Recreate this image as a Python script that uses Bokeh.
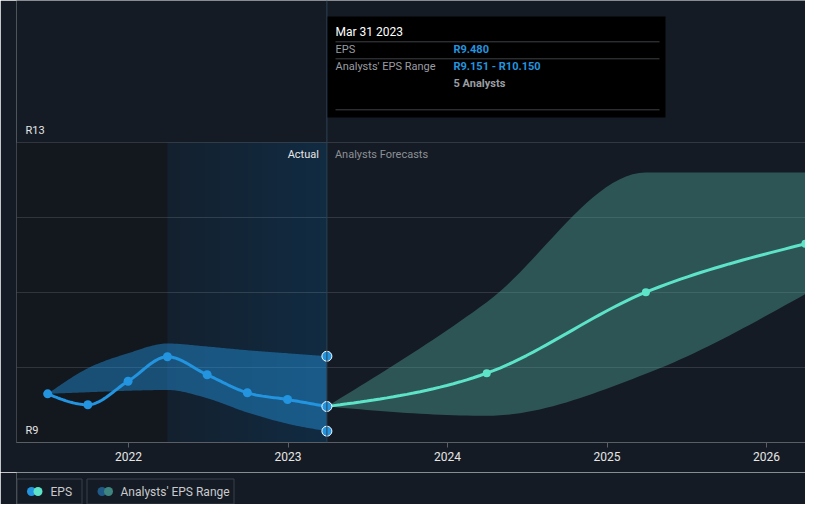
import numpy as np
import pandas as pd
from bokeh.plotting import figure
from bokeh.models import Range1d, FixedTicker, Span
from bokeh.layouts import column
from bokeh.core.properties import value
from bokeh.embed import file_html
from bokeh.resources import INLINE

# ---------------- data ----------------
eps_dates = ["2021-06-30", "2021-09-30", "2021-12-31", "2022-03-31",
             "2022-06-30", "2022-09-30", "2022-12-31", "2023-03-31"]
eps_values = [9.649, 9.503, 9.817, 10.143, 9.903, 9.663, 9.573, 9.480]
eps_range_low = [9.649, 9.67, 9.69, 9.70, 9.59, 9.40, 9.25, 9.151]
eps_range_high = [9.649, 9.99, 10.19, 10.32, 10.28, 10.23, 10.19, 10.150]

fc_dates = ["2023-03-31", "2024-03-31", "2025-03-31", "2026-03-31"]
fc_values = [9.480, 9.924, 11.004, 11.649]
fc_low = [9.480, 9.356, 9.916, 10.98]
fc_high = [9.480, 10.87, 12.60, 12.60]

x_ticks = [2022, 2023, 2024, 2025, 2026]
y_grid = [9, 10, 11, 12, 13]
y_label_values = [13, 9]
y_label_text = ["R13", "R9"]
past_year_start = "2022-03-31"
last_actual = "2023-03-31"

tooltip_title = "Mar 31 2023"
tooltip_rows = ["EPS", "Analysts' EPS Range"]
tooltip_vals = ["R9.480", "R9.151 - R10.150"]
tooltip_note = "5 Analysts"

legend_labels = ["EPS", "Analysts' EPS Range"]

# ---------------- style ----------------
BG = "#151b24"
DARK = "#13171e"
BLUE = "#2394df"
TEAL = "#5de3c8"
FONT = "Roboto"

PXY = 159.5   # px per year
PXV = 75.0    # px per R1


def xref(px):
    return 2022 + (px - 128) / PXY


def yref(py):
    return 9 + (442 - py) / PXV


X0, X1 = xref(16), xref(805)
Y0, Y1 = 9.0, yref(0)


def dec_year(s):
    t = pd.Timestamp(s)
    days = 366 if t.is_leap_year else 365
    return t.year + (t.dayofyear - 1) / days


def monotone(xs, ys, n=24):
    xs = np.asarray(xs, float)
    ys = np.asarray(ys, float)
    m = len(xs)
    h = np.diff(xs)
    s = np.diff(ys) / h
    t = np.zeros(m)
    for i in range(1, m - 1):
        s0, s1, h0, h1 = s[i - 1], s[i], h[i - 1], h[i]
        p = (s0 * h1 + s1 * h0) / (h0 + h1)
        sg = (1 if s0 >= 0 else -1) + (1 if s1 >= 0 else -1)
        t[i] = sg * min(abs(s0), abs(s1), 0.5 * abs(p))
    if m > 2:
        t[0] = (3 * s[0] - t[1]) / 2
        t[-1] = (3 * s[-1] - t[-2]) / 2
    else:
        t[0] = t[-1] = s[0]
    ox, oy = [], []
    for i in range(m - 1):
        u = np.linspace(0, 1, n, endpoint=(i == m - 2))
        hh = h[i]
        h00 = 2 * u**3 - 3 * u**2 + 1
        h10 = u**3 - 2 * u**2 + u
        h01 = -2 * u**3 + 3 * u**2
        h11 = u**3 - u**2
        ox.extend(xs[i] + u * hh)
        oy.extend(h00 * ys[i] + h10 * hh * t[i] + h01 * ys[i + 1] + h11 * hh * t[i + 1])
    return np.array(ox), np.array(oy)


ex = [dec_year(d) for d in eps_dates]
fx = [dec_year(d) for d in fc_dates]
xp = dec_year(past_year_start)
xl = dec_year(last_actual)

p = figure(width=805, height=472, title=None, output_backend="svg", toolbar_location=None,
           x_range=Range1d(X0, X1), y_range=Range1d(Y0, Y1), y_axis_location=None,
           min_border_left=16, min_border_right=0, min_border_top=0, min_border_bottom=30)
p.background_fill_color = BG
p.border_fill_color = BG
p.outline_line_color = None
p.xgrid.visible = False
p.ygrid.ticker = FixedTicker(ticks=y_grid)
p.ygrid.grid_line_color = "#ffffff"
p.ygrid.grid_line_alpha = 0.13

ax = p.xaxis[0]
ax.ticker = FixedTicker(ticks=x_ticks)
ax.axis_line_color = "#5a5f66"
ax.major_tick_line_color = "#5a5f66"
ax.major_tick_out = 5
ax.major_tick_in = 0
ax.minor_tick_line_color = None
ax.major_label_text_color = "#e6e6e6"
ax.major_label_text_font = FONT
ax.major_label_text_font_size = "12px"
ax.major_label_standoff = 4

# background regions
p.quad(left=[X0], right=[xp], bottom=[9], top=[13], fill_color=DARK, line_color=None, level="image")
N = 160
c0 = np.array([19, 32, 46])
c1 = np.array([17, 43, 66])
img = np.zeros((1, N), dtype=np.uint32)
view = img.view(dtype=np.uint8).reshape((1, N, 4))
for k in range(N):
    c = np.round(c0 + (c1 - c0) * k / (N - 1)).astype(int)
    view[0, k, 0], view[0, k, 1], view[0, k, 2], view[0, k, 3] = c[0], c[1], c[2], 255
p.image_rgba(image=[img], x=xp, y=9, dw=xl - xp, dh=4, level="image")

# bands
bx, blo = monotone(ex, eps_range_low)
_, bhi = monotone(ex, eps_range_high)
p.varea(x=bx, y1=blo, y2=bhi, fill_color=BLUE, fill_alpha=0.45)
fbx, fblo = monotone(fx, fc_low)
_, fbhi = monotone(fx, fc_high)
p.varea(x=fbx, y1=fblo, y2=fbhi, fill_color="#4fa89a", fill_alpha=0.42)

p.add_layout(Span(location=xl, dimension="height", line_color="#2b4256", line_width=1))

# lines
lx, ly = monotone(ex, eps_values)
p.line(lx, ly, line_color=BLUE, line_width=3)
flx, fly = monotone(fx, fc_values)
p.line(flx, fly, line_color=TEAL, line_width=3)

p.scatter(ex[:-1], eps_values[:-1], size=9, fill_color=BLUE, line_color=None)
p.scatter(fx[1:], fc_values[1:], size=8, fill_color=TEAL, line_color=None)
p.scatter([xl, xl, xl], [eps_range_high[-1], eps_values[-1], eps_range_low[-1]], size=10,
          fill_color=BLUE, line_color="white", line_width=1)

# y labels
p.text(x=[X0 + 9 / PXY] * 2, y=[v + 12 / PXV for v in y_label_values], text=y_label_text,
       text_color="#e6e6e6", text_font=value(FONT), text_font_size="11px",
       text_baseline="middle", text_align="left")

p.text(x=[xl - 8 / PXY], y=[13 - 12 / PXV], text=["Actual"], text_color="#e6e6e6",
       text_font=value(FONT), text_font_size="11px", text_baseline="middle", text_align="right")
p.text(x=[xl + 8 / PXY], y=[13 - 12 / PXV], text=["Analysts Forecasts"], text_color="#8c9096",
       text_font=value(FONT), text_font_size="11px", text_baseline="middle", text_align="left")

# tooltip
p.quad(left=[xref(327)], right=[xref(665)], bottom=[yref(117)], top=[yref(16)],
       fill_color="black", line_color=None, level="overlay")
p.segment(x0=[xref(335)] * 3, x1=[xref(659)] * 3, y0=[yref(41.3), yref(58.3), yref(109.3)],
          y1=[yref(41.3), yref(58.3), yref(109.3)], line_color="#3e4147", line_width=1, level="overlay")
p.text(x=[xref(335)], y=[yref(31)], text=[tooltip_title], text_color="white",
       text_font=value(FONT), text_font_size="12px", text_baseline="middle", level="overlay")
p.text(x=[xref(335)] * 2, y=[yref(49), yref(66)], text=tooltip_rows, text_color="#9a9da2",
       text_font=value(FONT), text_font_size="11px", text_baseline="middle", level="overlay")
p.text(x=[xref(453)] * 2, y=[yref(49), yref(66)], text=tooltip_vals, text_color=BLUE,
       text_font=value(FONT), text_font_size="11px", text_font_style="bold",
       text_baseline="middle", level="overlay")
p.text(x=[xref(453)], y=[yref(83)], text=[tooltip_note], text_color="#9a9da2",
       text_font=value(FONT), text_font_size="11px", text_font_style="bold",
       text_baseline="middle", level="overlay")

# legend figure (data units = page pixels; its frame is aligned with the main frame 16..805)
lg = figure(width=805, height=32, title=None, output_backend="svg", toolbar_location=None,
            x_range=Range1d(16, 805), y_range=Range1d(504, 472), x_axis_location=None,
            y_axis_location=None, min_border_left=16, min_border_right=0,
            min_border_top=0, min_border_bottom=0)
lg.background_fill_color = BG
lg.border_fill_color = BG
lg.outline_line_color = None
lg.grid.visible = False
lg.quad(left=[16.5, 86.5], right=[81.5, 233.5], top=[478.5, 478.5], bottom=[503.5, 503.5],
        fill_color=None, line_color="#3b4048", line_width=1)
lg.scatter([31, 101.5], [491, 491], size=9, fill_color=[BLUE, "#1f5a86"], line_color=None)
lg.scatter([37.5, 108], [491, 491], size=9, fill_color=[TEAL, "#3e8580"], line_color=None)
lg.text(x=[50, 120], y=[491, 491], text=legend_labels, text_color="#c8cacd",
        text_font=value(FONT), text_font_size="12px", text_baseline="middle")

layout = column(p, lg, spacing=0)
open("out.html", "w").write(file_html(layout, INLINE))
